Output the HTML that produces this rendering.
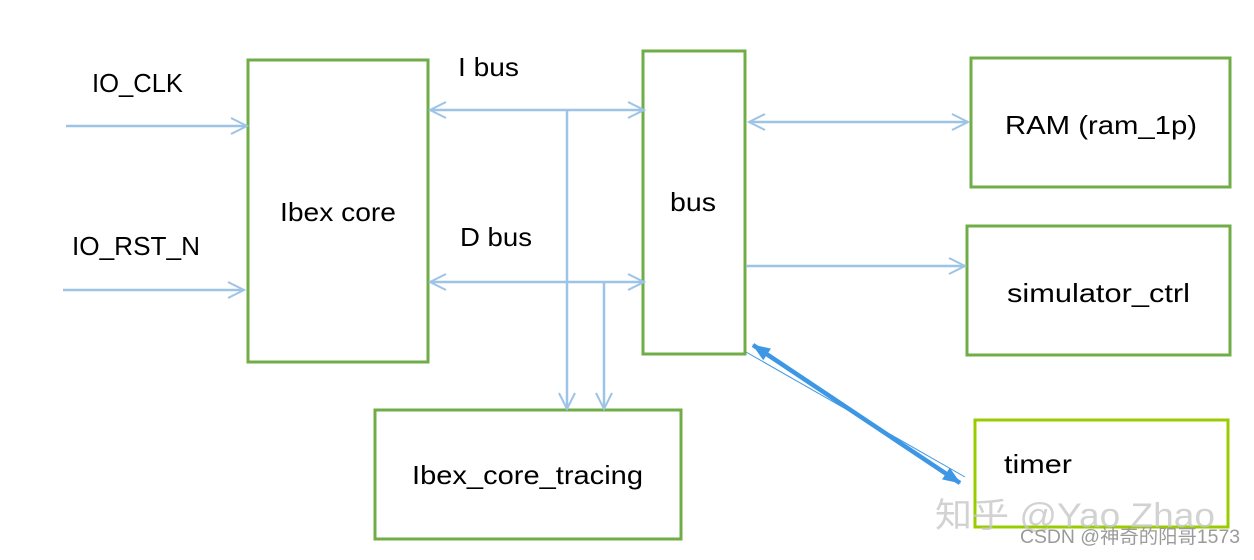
<!DOCTYPE html>
<html><head><meta charset="utf-8"><style>
html,body{margin:0;padding:0;background:#fff;}
text{font-family:"Liberation Sans","Noto Sans CJK SC",sans-serif;}
</style></head><body>
<svg width="1254" height="555" viewBox="0 0 1254 555" xmlns="http://www.w3.org/2000/svg">
<defs>
<marker id="a" markerWidth="20" markerHeight="20" refX="18" refY="10" orient="auto-start-reverse" markerUnits="userSpaceOnUse">
<path d="M2,2 L18,10 L2,18" fill="none" stroke="#9dc3e6" stroke-width="2"/></marker>
<marker id="b" markerWidth="18" markerHeight="14" refX="17" refY="7" orient="auto-start-reverse" markerUnits="userSpaceOnUse">
<path d="M0,0 L18,7 L0,14 Z" fill="#3d97e4"/></marker>
</defs>
<g fill="none" stroke="#70ad47" stroke-width="3">
<rect x="248" y="60" width="180" height="302"/>
<rect x="643" y="51" width="102" height="303"/>
<rect x="971" y="58" width="259" height="129"/>
<rect x="967" y="226" width="263" height="129"/>
<rect x="375" y="410" width="306" height="129"/>
</g>
<rect x="975" y="420" width="253" height="107" fill="none" stroke="#99cc00" stroke-width="3"/>
<g stroke="#9dc3e6" stroke-width="2.5" fill="none">
<line x1="66" y1="126" x2="247" y2="126" marker-end="url(#a)"/>
<line x1="63" y1="290" x2="244" y2="290" marker-end="url(#a)"/>
<line x1="430" y1="110" x2="644" y2="110" marker-start="url(#a)" marker-end="url(#a)"/>
<line x1="430" y1="282" x2="644" y2="282" marker-start="url(#a)" marker-end="url(#a)"/>
<line x1="567" y1="110" x2="567" y2="409" marker-end="url(#a)"/>
<line x1="604" y1="282" x2="604" y2="409" marker-end="url(#a)"/>
<line x1="749" y1="122" x2="968" y2="122" marker-start="url(#a)" marker-end="url(#a)"/>
<line x1="746" y1="266" x2="965" y2="266" marker-end="url(#a)"/>
</g>
<line x1="753" y1="345" x2="960" y2="483" stroke="#3d97e4" stroke-width="4.5" marker-start="url(#b)" marker-end="url(#b)"/>
<line x1="746" y1="352" x2="965" y2="477" stroke="#3d97e4" stroke-width="1"/>
<g font-size="26" fill="#000" lengthAdjust="spacingAndGlyphs">
<text x="92" y="92" textLength="91" lengthAdjust="spacingAndGlyphs">IO_CLK</text>
<text x="72" y="255" textLength="128" lengthAdjust="spacingAndGlyphs">IO_RST_N</text>
<text x="280" y="221" textLength="116" lengthAdjust="spacingAndGlyphs">Ibex core</text>
<text x="458" y="76" textLength="61" lengthAdjust="spacingAndGlyphs">I bus</text>
<text x="460" y="246" textLength="72" lengthAdjust="spacingAndGlyphs">D bus</text>
<text x="670" y="211" textLength="46" lengthAdjust="spacingAndGlyphs">bus</text>
<text x="1005" y="134" textLength="192" lengthAdjust="spacingAndGlyphs">RAM (ram_1p)</text>
<text x="1007" y="302" textLength="183" lengthAdjust="spacingAndGlyphs">simulator_ctrl</text>
<text x="412" y="484" textLength="231" lengthAdjust="spacingAndGlyphs">Ibex_core_tracing</text>
<text x="1004" y="473" textLength="68" lengthAdjust="spacingAndGlyphs">timer</text>
</g>
<text x="935" y="527" font-size="34" fill="#c8c8c8" opacity="0.8" textLength="280" lengthAdjust="spacingAndGlyphs">知乎 @Yao Zhao</text>
<text x="1020" y="543" font-size="19" fill="#9a9a9a" textLength="220" lengthAdjust="spacingAndGlyphs">CSDN @神奇的阳哥1573</text>
</svg>
</body></html>
